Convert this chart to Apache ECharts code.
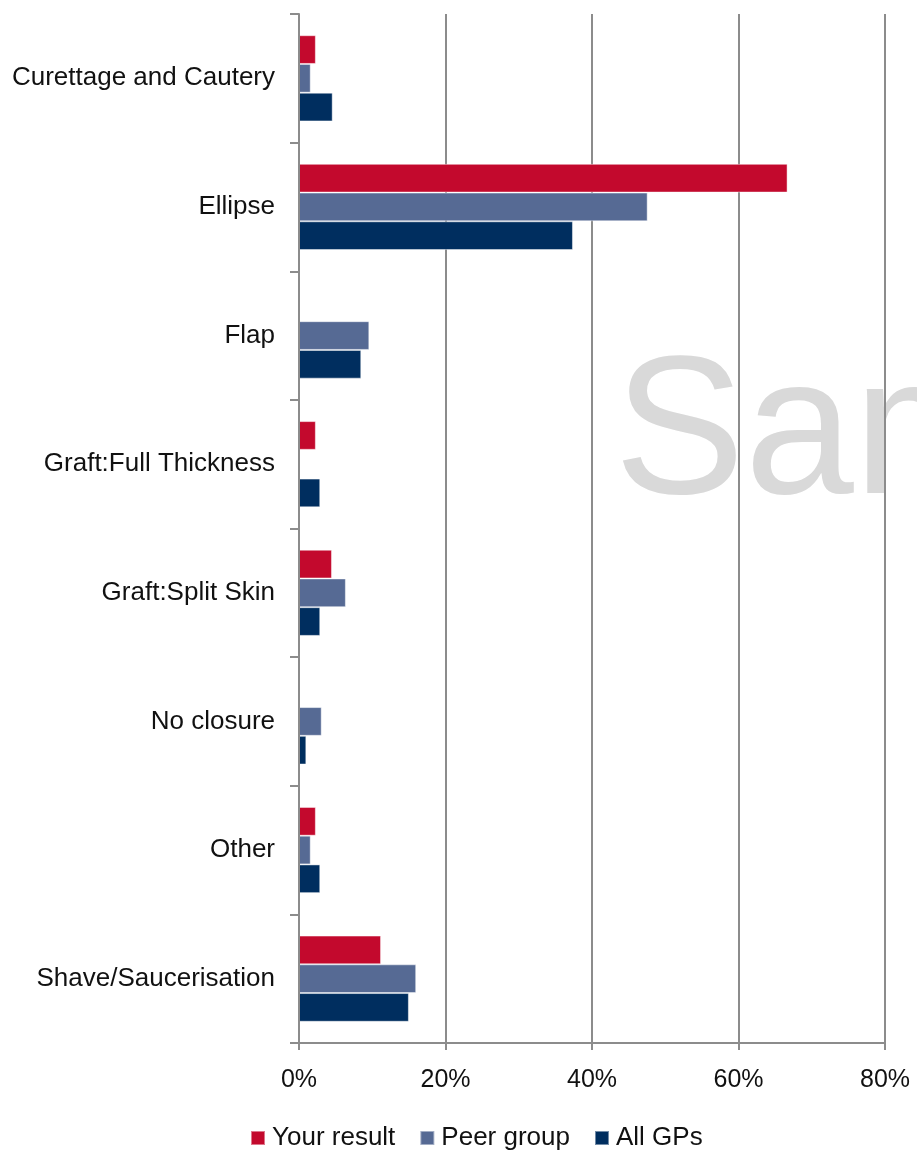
<!DOCTYPE html>
<html><head><meta charset="utf-8">
<script src="https://cdn.jsdelivr.net/npm/echarts@6/dist/echarts.min.js"></script>
<style>html,body{margin:0;padding:0;background:#fff}#c{width:917px;height:1151px}</style>
</head><body><div id="c"></div>
<script>
const categories = ["Curettage and Cautery","Ellipse","Flap","Graft:Full Thickness","Graft:Split Skin","No closure","Other","Shave/Saucerisation"];
const seriesNames = ["Your result","Peer group","All GPs"];
const yourResult = [2.3, 66.7, 0, 2.3, 4.5, 0, 2.3, 11.2];
const peerGroup = [1.6, 47.6, 9.6, 0, 6.4, 3.1, 1.6, 16.0];
const allGPs = [4.6, 37.4, 8.5, 2.9, 2.9, 1.0, 2.9, 15.0];
const xTicks = [0, 20, 40, 60, 80];
const colors = ["#c3092d", "#566a94", "#002e5f"];
const font = "Liberation Sans, Arial, sans-serif";

const chart = echarts.init(document.getElementById('c'));
const mk = (name, data, i) => ({
  name, type: 'bar', data, barGap: '0%', barCategoryGap: '33%',
  itemStyle: { color: colors[i], borderColor: 'rgba(255,255,255,0.45)', borderWidth: 1 },
  z: 3
});
chart.setOption({
  animation: false,
  color: colors,
  graphic: [{
    type: 'text', z: -10, left: 614, top: 341, silent: true,
    style: { text: 'Sample', fill: '#d9d9d9', font: '196px ' + font }
  }],
  grid: { left: 299, right: 32, top: 14, bottom: 108, containLabel: false },
  legend: {
    top: 1120, left: 245, itemWidth: 14, itemHeight: 14, itemGap: 24,
    icon: 'rect',
    textStyle: { fontFamily: font, fontSize: 26, color: '#111', padding: [0, 0, 0, 2] },
    data: seriesNames
  },
  xAxis: {
    type: 'value', min: 0, max: 80, interval: 20,
    axisLine: { show: true, lineStyle: { color: '#8c8c8c', width: 2 } },
    axisTick: { show: true, length: 7, lineStyle: { color: '#8c8c8c', width: 2 } },
    splitLine: { show: true, lineStyle: { color: '#8c8c8c', width: 2 } },
    axisLabel: { fontFamily: font, fontSize: 25, color: '#111', margin: 25,
      formatter: v => xTicks.includes(v) ? v + '%' : '' }
  },
  yAxis: {
    type: 'category', data: categories, inverse: true, z: 10,
    axisLine: { show: true, lineStyle: { color: '#8c8c8c', width: 2 } },
    axisTick: { show: true, length: 9, alignWithLabel: false, lineStyle: { color: '#8c8c8c', width: 2 } },
    axisLabel: { fontFamily: font, fontSize: 26, color: '#111', margin: 24, padding: [4, 0, 0, 0] }
  },
  series: [mk(seriesNames[0], yourResult, 0), mk(seriesNames[1], peerGroup, 1), mk(seriesNames[2], allGPs, 2)]
});
</script></body></html>
